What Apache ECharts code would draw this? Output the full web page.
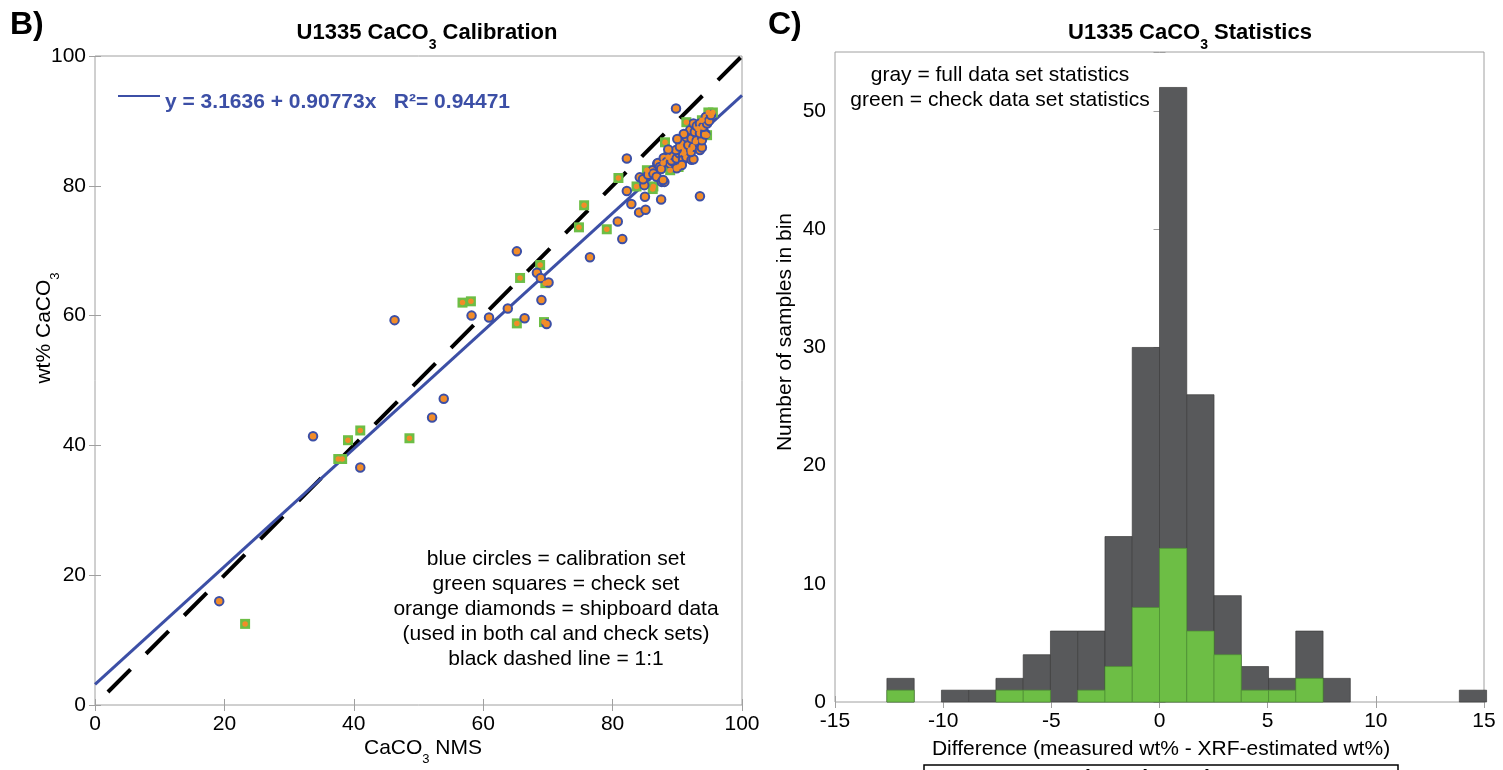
<!DOCTYPE html>
<html><head><meta charset="utf-8">
<script src="https://cdn.jsdelivr.net/npm/echarts@6/dist/echarts.min.js"></script>
<style>html,body{margin:0;padding:0;background:#fff}#c{width:1503px;height:770px}</style>
</head><body><div id="c"></div>
<script>
// ---------- DATA ----------
const calibrationSet = [
 [19.2,16.0],[33.7,41.4],[41.0,36.6],[46.3,59.3],[52.1,44.3],[53.9,47.2],[58.2,60.0],[60.9,59.7],[63.8,61.1],[65.2,69.9],
 [66.4,59.6],[68.3,66.6],[68.9,65.8],[70.1,65.1],[69.0,62.4],[69.8,58.7],[76.5,69.0],
 [80.8,74.5],[81.5,71.8],[82.2,79.2],[82.9,77.2],[84.1,75.9],[85.1,76.3],[85.0,78.3],[84.9,80.1],[87.5,77.9],[93.5,78.4],
 [84.2,81.3],[84.7,81.0],[85.5,81.7],[86.2,82.4],[86.3,81.9],[86.8,81.4],[86.9,83.4],[87.0,83.5],[87.3,82.9],[87.5,82.6],
 [87.6,80.6],[88.0,80.6],[87.8,80.9],[87.9,84.3],[88.4,83.7],[88.9,83.4],[89.4,83.7],[89.9,82.7],[89.1,83.9],[89.4,84.7],
 [89.9,84.2],[90.3,85.0],[89.8,85.5],[90.9,84.7],[90.9,84.0],[91.4,84.4],[92.2,84.0],[92.5,84.1],[90.4,86.0],[91.2,85.5],
 [92.1,85.2],[90.9,86.8],[91.7,86.3],[92.5,86.0],[93.5,86.3],[93.5,85.5],[93.8,85.9],[91.4,87.5],[92.2,87.3],[93.0,87.0],
 [93.8,87.0],[92.0,88.6],[92.7,88.3],[93.5,88.1],[94.3,88.1],[94.3,87.9],[92.5,89.6],[93.0,89.2],[93.5,89.6],[94.0,89.1],
 [94.6,89.6],[94.4,90.6],[94.9,90.0],[89.8,91.9],[82.2,84.2],[90.7,83.2],[88.6,85.6],[91.0,88.0],[95.2,90.9],[90.0,87.2]
];
const checkSet = [
 [23.2,12.5],[37.6,37.9],[38.2,37.9],[39.1,40.8],[41.0,42.3],[48.6,41.1],[56.8,62.0],[58.1,62.2],[65.2,58.8],[65.7,65.8],
 [68.8,67.8],[69.6,65.0],[69.4,59.0],[74.8,73.6],[75.6,77.0],[79.1,73.3],[80.9,81.2],[83.7,79.9],[86.3,79.9],[85.3,82.4],
 [86.2,79.5],[87.8,83.5],[88.9,82.4],[88.6,84.4],[88.1,86.7],[90.2,82.9],[91.4,89.8],[93.8,90.1],[94.8,91.3],[95.5,91.3],
 [94.6,87.8],[92.0,85.5],[91.0,85.0],[92.8,86.8],[90.5,86.0],[93.2,88.8]
];
const regIntercept = 3.1636;
const regSlope = 0.90773;
const regXRange = [0, 100];
const oneToOneRange = [2, 100];

const binLo = [-12.6,-11.34,-10.08,-8.82,-7.56,-6.3,-5.04,-3.78,-2.52,-1.26,0,1.26,2.52,3.78,5.04,6.3,7.56,8.82,10.08,11.34,12.6,13.86];
const binWidth = 1.26;
const fullCounts  = [2,0,1,1,2,4,6,6,14,30,52,26,9,3,2,6,2,0,0,0,0,1];
const checkCounts = [1,0,0,0,1,1,0,1,3,8,13,6,4,1,1,2,0,0,0,0,0,0];

const xTicksLeft = [0, 100, 20];
const yTicksLeft = [0, 100, 20];
const xTicksRight = [-15, 15, 5];
const yTicksRight = [0, 55, 10];

// ---------- BUILD ----------
const FONT = "'Liberation Sans', Arial, sans-serif";
const BLUE = '#3C4FA6', ORANGE = '#F28C28', GREEN = '#6DBE45', GRAY = '#58595B', FRAME = '#a0a0a0';

const regLine = regXRange.map(x => [x, regIntercept + regSlope * x]);
const idLine = oneToOneRange.map(v => [v, v]);
const fullHist = binLo.map((lo, i) => [lo, lo + binWidth, fullCounts[i]]).filter(d => d[2] > 0);
const checkHist = binLo.map((lo, i) => [lo, lo + binWidth, checkCounts[i]]).filter(d => d[2] > 0);

function histItem(fill, stroke) {
  return function (params, api) {
    const p0 = api.coord([api.value(0), 0]);
    const p1 = api.coord([api.value(1), api.value(2)]);
    return { type: 'rect', shape: { x: p0[0], y: p1[1], width: p1[0] - p0[0], height: p0[1] - p1[1] },
             style: { fill: fill, stroke: stroke, lineWidth: 0.7 } };
  };
}

function axis(gridIndex, pos, t, showLabel) {
  return {
    type: 'value', gridIndex, position: pos, min: t[0], max: t[1], interval: t[2],
    axisLine: { show: false },
    axisTick: { show: true, inside: true, length: 6, lineStyle: { color: FRAME } },
    splitLine: { show: false },
    axisLabel: { show: showLabel, color: '#000', fontSize: 21, fontFamily: FONT, margin: 9,
      formatter: v => (v % t[2] === 0 ? String(v) : '') }
  };
}

function rt(size, bold, color) {
  return {
    n: { fontSize: size, fontWeight: bold ? 'bold' : 'normal', fontFamily: FONT, fill: color || '#000', verticalAlign: 'top', lineHeight: size + 3 },
    s: { fontSize: Math.round(size * 0.62), fontWeight: bold ? 'bold' : 'normal', fontFamily: FONT, fill: color || '#000', verticalAlign: 'top', lineHeight: Math.round(size * 0.62), padding: [Math.round(size * 0.72), 0, 0, 0] }
  };
}
function gtext(x, y, text, size, bold, opts) {
  opts = opts || {};
  return {
    type: 'text', x, y, rotation: opts.rotation || 0, z: 100,
    style: { text, x: 0, y: 0, align: opts.align || 'center', verticalAlign: opts.valign || 'middle',
      font: (bold ? 'bold ' : '') + size + 'px ' + FONT, fill: opts.color || '#000', rich: rt(size, bold, opts.color) }
  };
}

const chart = echarts.init(document.getElementById('c'), null, { renderer: 'canvas' });
chart.setOption({
  animation: false,
  backgroundColor: '#fff',
  grid: [
    { left: 95, top: 56, width: 647, height: 649, show: true, borderColor: FRAME, borderWidth: 1, backgroundColor: 'transparent' },
    { left: 835, top: 52, width: 649, height: 650, show: true, borderColor: FRAME, borderWidth: 1, backgroundColor: 'transparent' }
  ],
  xAxis: [
    axis(0, 'bottom', xTicksLeft, true), axis(0, 'top', xTicksLeft, false),
    axis(1, 'bottom', xTicksRight, true), axis(1, 'top', xTicksRight, false)
  ],
  yAxis: [
    axis(0, 'left', yTicksLeft, true), axis(0, 'right', yTicksLeft, false),
    axis(1, 'left', yTicksRight, true), axis(1, 'right', yTicksRight, false)
  ],
  series: [
    { type: 'line', xAxisIndex: 0, yAxisIndex: 0, data: idLine, symbol: 'none', z: 2,
      lineStyle: { color: '#000', width: 4, type: [32, 22] } },
    { type: 'line', xAxisIndex: 0, yAxisIndex: 0, data: regLine, symbol: 'none', z: 3,
      lineStyle: { color: BLUE, width: 3 } },
    { type: 'scatter', xAxisIndex: 0, yAxisIndex: 0, data: checkSet, symbol: 'rect', symbolSize: 10, z: 4,
      itemStyle: { color: GREEN, opacity: 1 } },
    { type: 'scatter', xAxisIndex: 0, yAxisIndex: 0, data: calibrationSet, symbol: 'circle', symbolSize: 8.5, z: 5,
      itemStyle: { color: ORANGE, borderColor: BLUE, borderWidth: 2, opacity: 1 } },
    { type: 'scatter', xAxisIndex: 0, yAxisIndex: 0, data: checkSet, symbol: 'circle', symbolSize: 5.5, z: 6,
      itemStyle: { color: ORANGE, opacity: 1 } },
    { type: 'custom', xAxisIndex: 2, yAxisIndex: 2, data: fullHist, encode: { x: [0, 1], y: 2 },
      renderItem: histItem(GRAY, '#3c3c3c'), z: 2 },
    { type: 'custom', xAxisIndex: 2, yAxisIndex: 2, data: checkHist, encode: { x: [0, 1], y: 2 },
      renderItem: histItem(GREEN, '#4d8f33'), z: 3 }
  ],
  graphic: [
    gtext(10, 25, 'B)', 32, true, { align: 'left' }),
    gtext(768, 25, 'C)', 32, true, { align: 'left' }),
    gtext(427, 22, '{n|U1335 CaCO}{s|3}{n| Calibration}', 22, true, { valign: 'top' }),
    gtext(1190, 22, '{n|U1335 CaCO}{s|3}{n| Statistics}', 22, true, { valign: 'top' }),
    { type: 'line', shape: { x1: 118, y1: 96, x2: 160, y2: 96 }, style: { stroke: BLUE, lineWidth: 2 }, z: 100 },
    gtext(165, 102, 'y = 3.1636 + 0.90773x   R\u00B2= 0.94471', 21, true, { align: 'left', color: BLUE }),
    gtext(556, 559, 'blue circles = calibration set', 21, false),
    gtext(556, 584, 'green squares = check set', 21, false),
    gtext(556, 609, 'orange diamonds = shipboard data', 21, false),
    gtext(556, 634, '(used in both cal and check sets)', 21, false),
    gtext(556, 659, 'black dashed line = 1:1', 21, false),
    gtext(1000, 75, 'gray = full data set statistics', 21, false),
    gtext(1000, 100, 'green = check data set statistics', 21, false),
    gtext(423, 738, '{n|CaCO}{s|3}{n| NMS}', 21, false, { valign: 'top' }),
    gtext(1161, 739, '{n|Difference (measured wt% - XRF-estimated wt%)}', 21, false, { valign: 'top' }),
    gtext(34, 328, '{n|wt% CaCO}{s|3}', 21, false, { valign: 'top', rotation: Math.PI / 2 }),
    gtext(775, 332, '{n|Number of samples in bin}', 21, false, { valign: 'top', rotation: Math.PI / 2 }),
    { type: 'rect', shape: { x: 924, y: 765, width: 474, height: 40 }, style: { fill: '#fff', stroke: '#000', lineWidth: 1.5 }, z: 99 },
    gtext(1161, 768, '{n|Measured - Estimated wt% CaCO}{s|3}', 21, true, { valign: 'top' })
  ]
});
</script></body></html>
